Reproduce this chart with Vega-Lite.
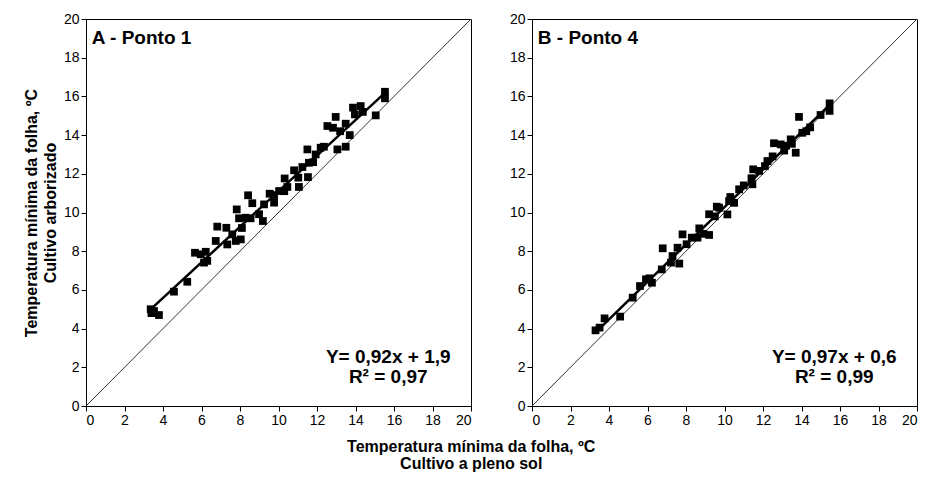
{
  "$schema": "https://vega.github.io/schema/vega-lite/v6.json",
  "padding": {"left": 22, "top": 11, "right": 10, "bottom": 10},
  "background": "white",
  "config": {
    "font": "Liberation Sans",
    "view": {"stroke": "#000", "strokeWidth": 1},
    "axis": {"domainColor": "#000", "tickColor": "#000", "labelColor": "#000", "titleColor": "#000", "labelFontSize": 14, "titleFontSize": 16, "titleFontWeight": "bold", "grid": false, "tickSize": 5, "labelPadding": 2, "labelFont": "Liberation Sans", "titleFont": "Liberation Sans", "titleLineHeight": 19, "titlePadding": 5}
  },
  "title": {"text": ["Temperatura mínima da folha, ºC", "Cultivo a pleno sol"], "orient": "bottom", "fontSize": 16, "fontWeight": "bold", "anchor": "middle", "offset": 11, "lineHeight": 17, "color": "#000", "font": "Liberation Sans"},
  "datasets": {
    "diag": [{"x": 0, "y": 0}, {"x": 20, "y": 20}],
    "pontoA": [
      {"x": 3.36, "y": 5.0}, {"x": 3.53, "y": 4.91}, {"x": 3.79, "y": 4.7}, {"x": 3.4, "y": 4.8},
      {"x": 4.57, "y": 5.91}, {"x": 5.26, "y": 6.42}, {"x": 5.66, "y": 7.92}, {"x": 5.96, "y": 7.84},
      {"x": 6.22, "y": 7.97}, {"x": 6.13, "y": 7.41}, {"x": 6.3, "y": 7.5}, {"x": 6.82, "y": 9.27},
      {"x": 6.74, "y": 8.53}, {"x": 7.29, "y": 9.21}, {"x": 7.34, "y": 8.35}, {"x": 7.6, "y": 8.87},
      {"x": 7.78, "y": 8.53}, {"x": 8.04, "y": 8.61}, {"x": 7.83, "y": 10.16}, {"x": 7.95, "y": 9.7},
      {"x": 8.1, "y": 9.2}, {"x": 8.3, "y": 9.73}, {"x": 8.55, "y": 9.7}, {"x": 8.42, "y": 10.89},
      {"x": 8.64, "y": 10.48}, {"x": 8.99, "y": 9.91}, {"x": 9.19, "y": 9.56}, {"x": 9.25, "y": 10.42},
      {"x": 9.54, "y": 10.97}, {"x": 9.77, "y": 10.51}, {"x": 9.77, "y": 10.9}, {"x": 10.03, "y": 11.11},
      {"x": 10.32, "y": 11.76}, {"x": 10.46, "y": 11.32}, {"x": 10.3, "y": 11.1}, {"x": 10.81, "y": 12.18},
      {"x": 11.03, "y": 11.8}, {"x": 11.06, "y": 11.32}, {"x": 11.24, "y": 12.35}, {"x": 11.5, "y": 13.26},
      {"x": 11.53, "y": 11.83}, {"x": 11.58, "y": 12.57}, {"x": 11.8, "y": 12.6}, {"x": 11.93, "y": 13.0},
      {"x": 12.19, "y": 13.35}, {"x": 12.36, "y": 13.4}, {"x": 12.54, "y": 14.47}, {"x": 12.97, "y": 14.94},
      {"x": 12.83, "y": 14.38}, {"x": 13.06, "y": 13.26}, {"x": 13.2, "y": 14.2}, {"x": 13.49, "y": 14.59},
      {"x": 13.49, "y": 13.4}, {"x": 13.7, "y": 14.0}, {"x": 13.87, "y": 15.42}, {"x": 13.97, "y": 15.07},
      {"x": 14.27, "y": 15.5}, {"x": 14.38, "y": 15.2}, {"x": 15.05, "y": 15.02}, {"x": 15.53, "y": 16.24},
      {"x": 15.53, "y": 15.9}
    ],
    "pontoB": [
      {"x": 3.3, "y": 3.91}, {"x": 3.51, "y": 4.05}, {"x": 3.77, "y": 4.53}, {"x": 4.58, "y": 4.62},
      {"x": 5.23, "y": 5.6}, {"x": 5.61, "y": 6.2}, {"x": 5.92, "y": 6.55}, {"x": 6.23, "y": 6.37},
      {"x": 6.1, "y": 6.6}, {"x": 6.74, "y": 7.06}, {"x": 6.79, "y": 8.15}, {"x": 7.22, "y": 7.41},
      {"x": 7.3, "y": 7.75}, {"x": 7.65, "y": 7.36}, {"x": 7.56, "y": 8.18}, {"x": 7.82, "y": 8.87},
      {"x": 8.03, "y": 8.36}, {"x": 8.3, "y": 8.7}, {"x": 8.6, "y": 8.7}, {"x": 8.69, "y": 9.18},
      {"x": 8.9, "y": 8.9}, {"x": 9.2, "y": 8.84}, {"x": 9.2, "y": 9.91}, {"x": 9.5, "y": 9.8},
      {"x": 9.72, "y": 10.25}, {"x": 9.6, "y": 10.3}, {"x": 10.15, "y": 9.9}, {"x": 10.24, "y": 10.59},
      {"x": 10.3, "y": 10.8}, {"x": 10.5, "y": 10.5}, {"x": 10.76, "y": 11.2}, {"x": 11.0, "y": 11.4},
      {"x": 11.45, "y": 11.46}, {"x": 11.4, "y": 11.77}, {"x": 11.49, "y": 12.23}, {"x": 11.8, "y": 12.15},
      {"x": 12.1, "y": 12.4}, {"x": 12.23, "y": 12.66}, {"x": 12.5, "y": 12.9}, {"x": 12.57, "y": 13.58},
      {"x": 12.92, "y": 13.52}, {"x": 13.1, "y": 13.2}, {"x": 13.2, "y": 13.45}, {"x": 13.44, "y": 13.78},
      {"x": 13.7, "y": 13.09}, {"x": 13.5, "y": 13.55}, {"x": 13.87, "y": 14.94}, {"x": 14.04, "y": 14.12},
      {"x": 14.25, "y": 14.2}, {"x": 14.45, "y": 14.4}, {"x": 14.99, "y": 15.04}, {"x": 15.46, "y": 15.64},
      {"x": 15.46, "y": 15.25}
    ],
    "fitA": [{"x": 3.3, "y": 4.94}, {"x": 15.5, "y": 16.16}],
    "fitB": [{"x": 3.4, "y": 3.9}, {"x": 15.5, "y": 15.6}],
    "labelsA": [
      {"x": 0.3, "y": 19.0, "t": "A - Ponto 1", "a": "left"},
      {"x": 15.7, "y": 2.55, "t": "Y= 0,92x + 1,9", "a": "center"},
      {"x": 15.7, "y": 1.5, "t": "R² = 0,97", "a": "center"}
    ],
    "labelsB": [
      {"x": 0.3, "y": 19.0, "t": "B - Ponto 4", "a": "left"},
      {"x": 15.7, "y": 2.55, "t": "Y= 0,97x + 0,6", "a": "center"},
      {"x": 15.7, "y": 1.5, "t": "R² = 0,99", "a": "center"}
    ]
  },
  "spacing": 34,
  "hconcat": [
    {
      "width": 385,
      "height": 387,
      "encoding": {
        "x": {"field": "x", "type": "quantitative", "scale": {"domain": [0, 20], "nice": false}, "axis": {"title": null, "values": [0, 2, 4, 6, 8, 10, 12, 14, 16, 18, 20]}},
        "y": {"field": "y", "type": "quantitative", "scale": {"domain": [0, 20], "nice": false}, "axis": {"title": ["Temperatura mínima da folha, ºC", "Cultivo arborizado"], "values": [0, 2, 4, 6, 8, 10, 12, 14, 16, 18, 20]}}
      },
      "layer": [
        {"data": {"name": "diag"}, "mark": {"type": "line", "color": "#333", "strokeWidth": 1}},
        {"data": {"name": "fitA"}, "mark": {"type": "line", "color": "#000", "strokeWidth": 2.5}},
        {"data": {"name": "pontoA"}, "mark": {"type": "point", "shape": "square", "filled": true, "color": "#000", "size": 60, "opacity": 1}},
        {"data": {"name": "labelsA"}, "transform": [{"filter": "datum.a == 'left'"}], "mark": {"type": "text", "align": "left", "baseline": "middle", "fontSize": 19, "fontWeight": "bold", "color": "#000"}, "encoding": {"text": {"field": "t"}}},
        {"data": {"name": "labelsA"}, "transform": [{"filter": "datum.a == 'center'"}], "mark": {"type": "text", "align": "center", "baseline": "middle", "fontSize": 19, "fontWeight": "bold", "color": "#000"}, "encoding": {"text": {"field": "t"}}}
      ]
    },
    {
      "width": 385,
      "height": 387,
      "encoding": {
        "x": {"field": "x", "type": "quantitative", "scale": {"domain": [0, 20], "nice": false}, "axis": {"title": null, "values": [0, 2, 4, 6, 8, 10, 12, 14, 16, 18, 20]}},
        "y": {"field": "y", "type": "quantitative", "scale": {"domain": [0, 20], "nice": false}, "axis": {"title": null, "values": [0, 2, 4, 6, 8, 10, 12, 14, 16, 18, 20]}}
      },
      "layer": [
        {"data": {"name": "diag"}, "mark": {"type": "line", "color": "#333", "strokeWidth": 1}},
        {"data": {"name": "fitB"}, "mark": {"type": "line", "color": "#000", "strokeWidth": 2.5}},
        {"data": {"name": "pontoB"}, "mark": {"type": "point", "shape": "square", "filled": true, "color": "#000", "size": 60, "opacity": 1}},
        {"data": {"name": "labelsB"}, "transform": [{"filter": "datum.a == 'left'"}], "mark": {"type": "text", "align": "left", "baseline": "middle", "fontSize": 19, "fontWeight": "bold", "color": "#000"}, "encoding": {"text": {"field": "t"}}},
        {"data": {"name": "labelsB"}, "transform": [{"filter": "datum.a == 'center'"}], "mark": {"type": "text", "align": "center", "baseline": "middle", "fontSize": 19, "fontWeight": "bold", "color": "#000"}, "encoding": {"text": {"field": "t"}}}
      ]
    }
  ]
}
